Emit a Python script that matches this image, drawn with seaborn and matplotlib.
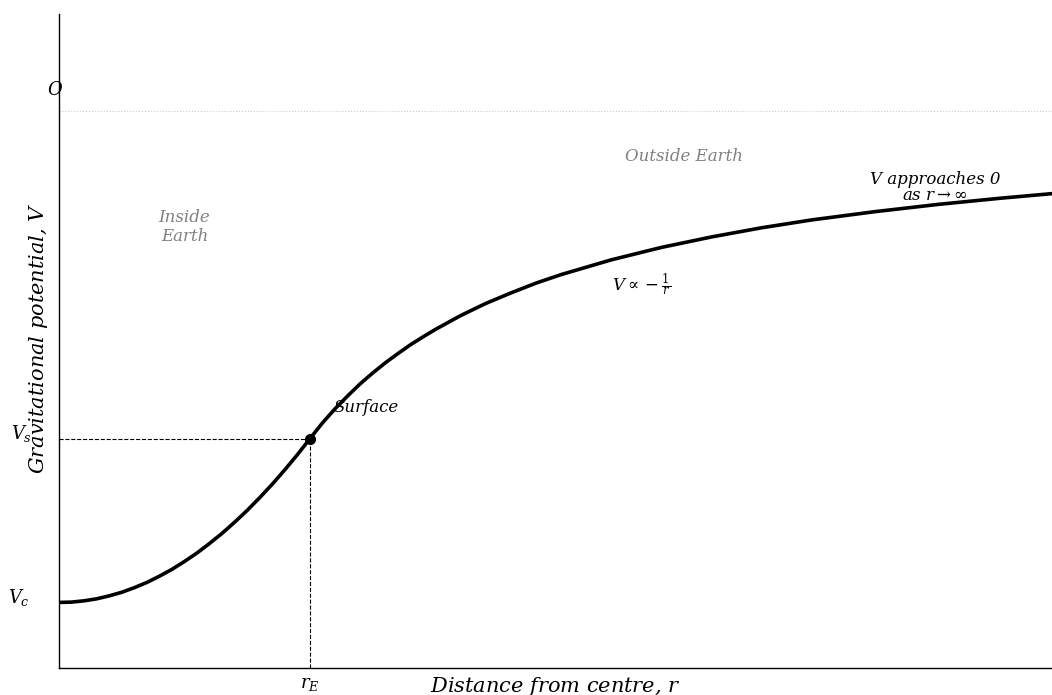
import matplotlib
matplotlib.use('Agg')
import matplotlib.pyplot as plt
import seaborn as sns
import pandas as pd

# distance from centre (in units of r_E) and potential (in units of |V_s|)
r_inside = [0.0, 0.05, 0.1, 0.15, 0.2, 0.25, 0.3, 0.35, 0.4, 0.45, 0.5,
            0.55, 0.6, 0.65, 0.7, 0.75, 0.8, 0.85, 0.9, 0.95, 1.0]
v_inside = [-1.5, -1.499, -1.495, -1.489, -1.48, -1.469, -1.455, -1.439, -1.42, -1.399, -1.375,
            -1.349, -1.32, -1.289, -1.255, -1.219, -1.18, -1.139, -1.095, -1.049, -1.0]
r_outside = [1.05, 1.1, 1.15, 1.2, 1.25, 1.3, 1.35, 1.4, 1.45, 1.5, 1.6, 1.7, 1.8, 1.9,
             2.0, 2.2, 2.4, 2.6, 2.8, 3.0, 3.25, 3.5, 3.75, 4.0]
v_outside = [-0.952, -0.909, -0.870, -0.833, -0.8, -0.769, -0.741, -0.714, -0.690, -0.667,
             -0.625, -0.588, -0.556, -0.526, -0.5, -0.455, -0.417, -0.385, -0.357, -0.333,
             -0.308, -0.286, -0.267, -0.25]
r_surface = 1.0
v_surface = -1.0
v_centre = -1.5

sns.set_style('white')
plt.rcParams['font.family'] = ['DejaVu Serif']
plt.rcParams['mathtext.fontset'] = 'dejavuserif'
plt.rcParams['text.color'] = 'black'
plt.rcParams['axes.labelcolor'] = 'black'

df = pd.DataFrame({'r': r_inside + r_outside, 'V': v_inside + v_outside})

fig = plt.figure(figsize=(10.52, 6.95), dpi=100)
ax = fig.add_axes([59/1052, 1 - 668/695, 1 - 59/1052, (668 - 14)/695])

sns.lineplot(data=df, x='r', y='V', color='black', lw=2.6, ax=ax, sort=False,
             solid_joinstyle='round', solid_capstyle='round')
ax.axhline(0, color='#cccccc', ls=':', lw=0.8)
ax.plot([0, r_surface], [v_surface, v_surface], color='black', ls='--', lw=0.8)
ax.plot([r_surface, r_surface], [-1.7, v_surface], color='black', ls='--', lw=0.8)
ax.plot(r_surface, v_surface, 'o', color='black', ms=7, zorder=5)

ax.set_xlim(0, 3.956)
ax.set_ylim(-1.7, 0.295)
ax.set_xticks([])
ax.set_yticks([])
sns.despine(ax=ax)
for s in ['left', 'bottom']:
    ax.spines[s].set_color('black')
    ax.spines[s].set_linewidth(1.0)

ax.set_xlabel('Distance from centre, $r$', fontsize=15, style='italic')
ax.set_ylabel('Gravitational potential, $V$', fontsize=15, style='italic')
ax.xaxis.set_label_coords(0.5, -0.010, transform=ax.transAxes)
ax.yaxis.set_label_coords(-0.009, 0.505)
ax.xaxis.label.set_va('top')

ax.text(-0.016, 0.064, '$O$', fontsize=13, ha='center', va='center', clip_on=False)
ax.text(-0.15, -0.985, '$V_s$', fontsize=13, ha='center', va='center', clip_on=False)
ax.text(-0.16, -1.485, '$V_c$', fontsize=13, ha='center', va='center', clip_on=False)
ax.text(r_surface, -1.75, '$r_E$', fontsize=13, ha='center', va='center', clip_on=False)

ax.text(0.5, -0.355, 'Inside\nEarth', fontsize=12, color='gray', style='italic',
        ha='center', va='center', linespacing=1.15)
ax.text(2.49, -0.14, 'Outside Earth', fontsize=12, color='gray', style='italic',
        ha='center', va='center')
ax.text(2.32, -0.53, r'$V \propto -\frac{1}{r}$', fontsize=12, ha='center', va='center')
ax.text(3.49, -0.235, 'V approaches 0\nas $r \\rightarrow \\infty$', fontsize=12,
        style='italic', ha='center', va='center', linespacing=0.95)
ax.text(1.095, -0.905, 'Surface', fontsize=12, style='italic', ha='left', va='center')

fig.savefig('out.png', dpi=100)
